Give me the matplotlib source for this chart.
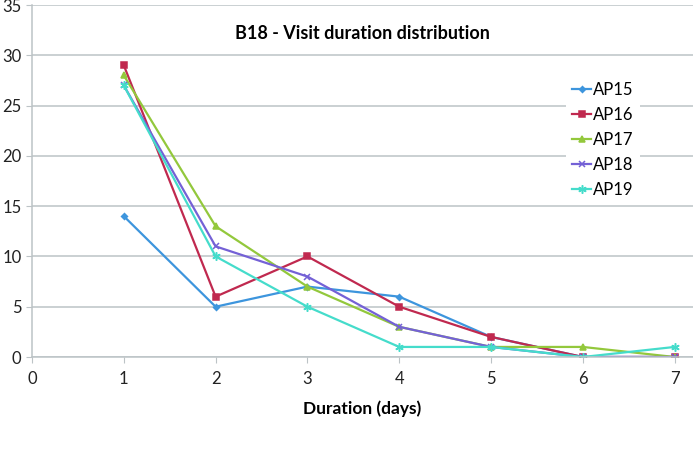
import matplotlib

matplotlib.use("Agg")
import matplotlib.pyplot as plt

plt.rcParams["font.family"] = ["Lato", "DejaVu Sans"]

days = [1, 2, 3, 4, 5, 6, 7]
ap15 = [14, 5, 7, 6, 2, 0, 0]
ap16 = [29, 6, 10, 5, 2, 0, 0]
ap17 = [28, 13, 7, 3, 1, 1, 0]
ap18 = [27, 11, 8, 3, 1, 0, 0]
ap19 = [27, 10, 5, 1, 1, 0, 1]

series = [
    ("AP15", ap15, "#3d95dd", "D", 3),
    ("AP16", ap16, "#c0294f", "s", 4.5),
    ("AP17", ap17, "#93c83c", "^", 4.5),
    ("AP18", ap18, "#7461d6", "x", 5),
    ("AP19", ap19, "#45dccb", (6, 2, 0), 6),
]

fig = plt.figure(figsize=(6.93, 4.53), dpi=100)
ax = fig.add_axes([32 / 693, 1 - 357 / 453, 661 / 693, 352 / 453])

for name, vals, color, marker, ms in series:
    ax.plot(days, vals, color=color, linewidth=1.6, marker=marker,
            markersize=ms, markeredgewidth=1.1, label=name)

ax.set_xlim(0, 7.2)
ax.set_ylim(0, 35)
ax.set_xticks(range(0, 8))
ax.set_yticks(range(0, 36, 5))
ax.grid(axis="y", color="#bcc3c6", linewidth=1.1)
ax.set_axisbelow(True)
for side in ("top", "right"):
    ax.spines[side].set_visible(False)
for side in ("left", "bottom"):
    ax.spines[side].set_color("#bcc3c6")
    ax.spines[side].set_linewidth(1.1)
ax.tick_params(axis="both", colors="#bcc3c6", length=4, labelsize=12,
               labelcolor="#222222")
ax.tick_params(axis="x", pad=6)

ax.set_title("B18 - Visit duration distribution", fontsize=13,
             fontweight="bold", y=0.88, x=0.5)
ax.set_xlabel("Duration (days)", fontsize=12.5, fontweight="bold", labelpad=10)

leg = ax.legend(loc="upper left", bbox_to_anchor=(0.795, 0.825), frameon=True,
                fontsize=12, handlelength=1.1, handletextpad=0.15,
                labelspacing=0.55, borderpad=0.4)
leg.get_frame().set_edgecolor("none")
leg.get_frame().set_facecolor("white")
leg.get_frame().set_alpha(1)

plt.savefig("out.png", dpi=100)
plt.close()
